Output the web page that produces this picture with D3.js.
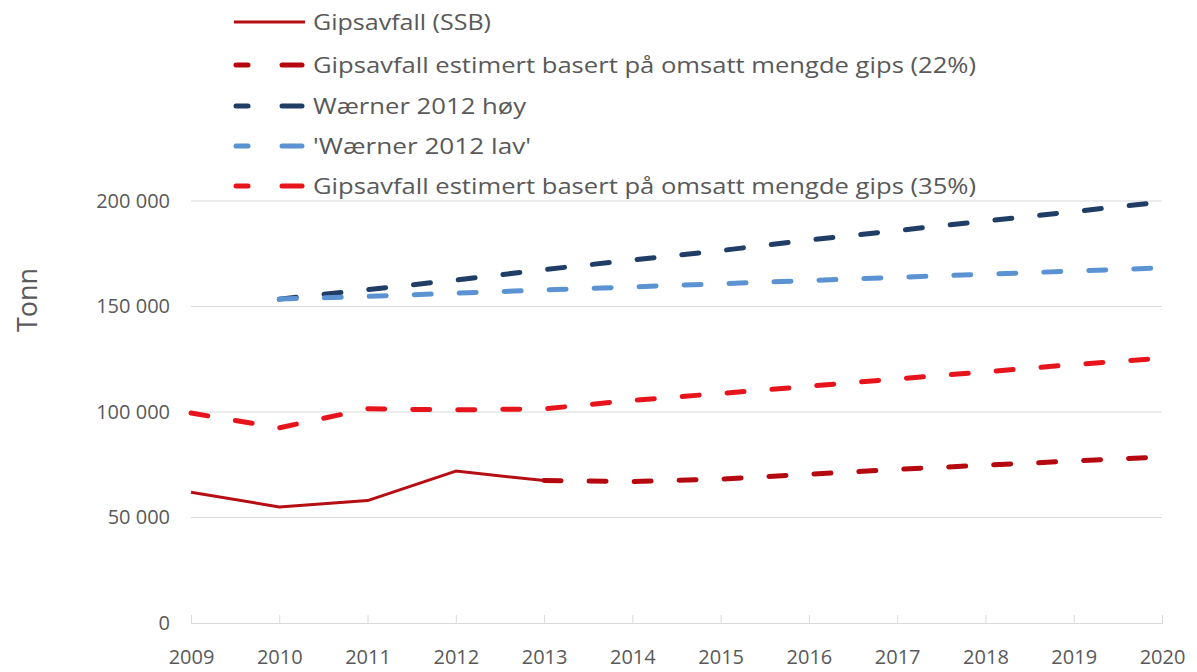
<!DOCTYPE html>
<html>
<head>
<meta charset="utf-8">
<script src="https://cdn.jsdelivr.net/npm/d3@7"></script>
<style>
  html, body { margin: 0; padding: 0; background: #fff; }
  svg { display: block; }
  text { font-family: "Open Sans", "Noto Sans", sans-serif; fill: #595959; }
</style>
</head>
<body>
<svg id="chart" width="1197" height="672"></svg>
<script>
// ---- Data ----
const years = [2009, 2010, 2011, 2012, 2013, 2014, 2015, 2016, 2017, 2018, 2019, 2020];
const ssb = [62000, 55000, 58000, 72000, 67500, null, null, null, null, null, null, null];
const est22 = [null, null, null, null, 67500, 67000, 68200, 70500, 72800, 74800, 76800, 78700];
const waernerHoy = [null, 153500, 158000, 162500, 167500, 172000, 176500, 181500, 186000, 190500, 195000, 199500];
const waernerLav = [null, 153500, 154800, 156300, 157800, 159300, 160800, 162300, 163800, 165300, 166800, 168300];
const est35 = [99500, 92500, 101500, 101000, 101500, 105500, 108800, 112200, 115700, 119000, 122500, 125500];
const yTicks = [0, 50000, 100000, 150000, 200000];
const seriesNames = [
  "Gipsavfall (SSB)",
  "Gipsavfall estimert basert på omsatt mengde gips (22%)",
  "Wærner 2012 høy",
  "'Wærner 2012 lav'",
  "Gipsavfall estimert basert på omsatt mengde gips (35%)"
];

const series = [
  { name: seriesNames[0], values: ssb, color: "#b50f14", dashed: false, width: 3 },
  { name: seriesNames[1], values: est22, color: "#b5080f", dashed: true, width: 5 },
  { name: seriesNames[2], values: waernerHoy, color: "#203d66", dashed: true, width: 5 },
  { name: seriesNames[3], values: waernerLav, color: "#5b92d2", dashed: true, width: 5 },
  { name: seriesNames[4], values: est35, color: "#e8141b", dashed: true, width: 5 }
];

// ---- Layout ----
const svg = d3.select("#chart");
const pLeft = 191, pRight = 1162, pTop = 201, pBottom = 623;

const x = d3.scalePoint().domain(years).range([pLeft, pRight]);
const y = d3.scaleLinear().domain([0, 200000]).range([pBottom, pTop]);

const fmt = v => d3.format(",")(v).replace(/,/g, " ");

// gridlines
svg.append("g")
  .selectAll("line")
  .data(yTicks.filter(d => d > 0))
  .join("line")
  .attr("x1", pLeft).attr("x2", pRight)
  .attr("y1", d => y(d)).attr("y2", d => y(d))
  .attr("stroke", "#d9d9d9").attr("stroke-width", 1);

// y axis labels
const yAxis = svg.append("g")
  .attr("transform", `translate(${pLeft},0)`)
  .call(d3.axisLeft(y).tickValues(yTicks).tickFormat(fmt).tickSize(0).tickPadding(21));
yAxis.select(".domain").remove();
yAxis.selectAll("text")
  .style("font-size", "20px").attr("fill", "#595959");

// x axis
const xAxis = svg.append("g")
  .attr("transform", `translate(0,${pBottom})`)
  .call(d3.axisBottom(x).tickSize(-8).tickPadding(27));
xAxis.select(".domain").attr("stroke", "#d9d9d9");
xAxis.selectAll(".tick line").attr("stroke", "#d9d9d9");
xAxis.selectAll("text").style("font-size", "20px").attr("fill", "#595959");

// y title
svg.append("text")
  .attr("transform", "translate(37,300) rotate(-90)")
  .attr("text-anchor", "middle")
  .style("font-size", "27px")
  .text("Tonn");

// lines
const line = d3.line()
  .defined(d => d.v !== null)
  .x(d => x(d.year))
  .y(d => y(d.v));

svg.append("g")
  .selectAll("path")
  .data(series)
  .join("path")
  .attr("d", s => line(years.map((yr, i) => ({ year: yr, v: s.values[i] }))))
  .attr("fill", "none")
  .attr("stroke", s => s.color)
  .attr("stroke-width", s => s.width)
  .attr("stroke-linecap", s => s.dashed ? "round" : "butt")
  .attr("stroke-linejoin", "round")
  .attr("stroke-dasharray", s => s.dashed ? "17,28" : null);

// legend
const legendY = [22, 65, 106, 146, 186];
const legendW = [178, 663, 213, 218, 663];
const lg = svg.append("g");
series.forEach((s, i) => {
  const g = lg.append("g").attr("transform", `translate(0,${legendY[i]})`);
  if (s.dashed) {
    [[236, 248], [282, 302]].forEach(([a, b]) => {
      g.append("line").attr("x1", a).attr("x2", b).attr("y1", 0).attr("y2", 0)
        .attr("stroke", s.color).attr("stroke-width", 5).attr("stroke-linecap", "round");
    });
  } else {
    g.append("line").attr("x1", 234).attr("x2", 305).attr("y1", 0).attr("y2", 0)
      .attr("stroke", s.color).attr("stroke-width", 3);
  }
  g.append("text").attr("x", 313).attr("dy", "0.36em")
    .style("font-size", "22px")
    .attr("textLength", legendW[i])
    .attr("lengthAdjust", "spacingAndGlyphs")
    .text(s.name);
});
</script>
</body>
</html>
